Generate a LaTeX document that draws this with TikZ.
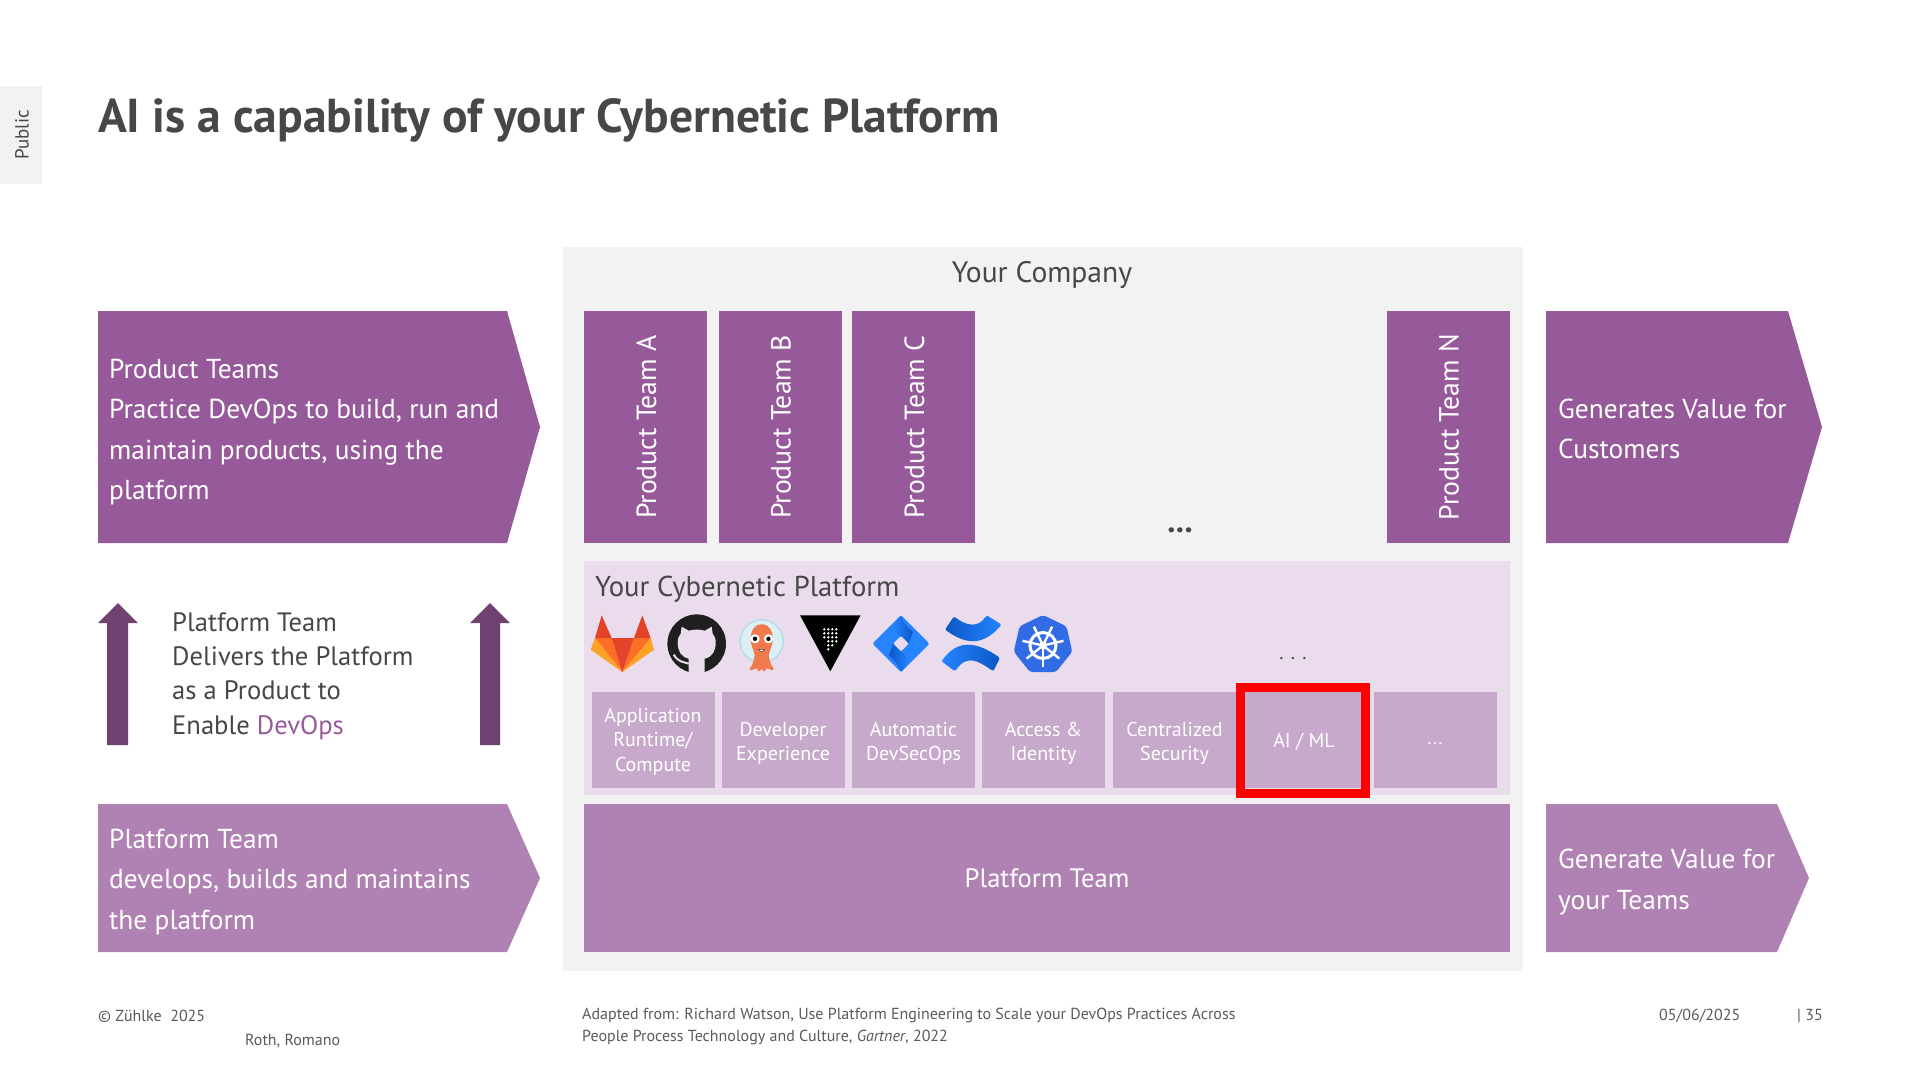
\documentclass[tikz,border=0pt]{standalone}
\usepackage{fontspec}
\usetikzlibrary{shapes.geometric}
\setmainfont{PT Sans}
\definecolor{purpA}{HTML}{965A9A}
\definecolor{purpB}{HTML}{B082B3}
\definecolor{chipC}{HTML}{C7A9CB}
\definecolor{platBg}{HTML}{EADCEC}
\definecolor{compBg}{HTML}{F2F2F2}
\definecolor{darkP}{HTML}{6F4272}
\definecolor{txt}{HTML}{474747}
\definecolor{foot}{HTML}{5A5A5A}
\definecolor{jblue}{HTML}{2684FF}
\definecolor{jdark}{HTML}{0B57C4}
\definecolor{kblue}{HTML}{326CE5}
\definecolor{glA}{HTML}{E24329}
\definecolor{glB}{HTML}{FC6D26}
\definecolor{glC}{HTML}{FCA326}
\definecolor{argoO}{HTML}{EF7B4D}
\definecolor{helmet}{HTML}{DCEFF5}
\definecolor{helmetE}{HTML}{B5DCEB}
\tikzset{
  teambox/.style={fill=purpA,minimum width=123pt,minimum height=232pt,inner sep=0pt},
  teamlabel/.style={text=white,rotate=90,font=\fontsize{27.7}{30}\selectfont},
  chip/.style={fill=chipC,minimum height=96pt,minimum width=123pt,inner sep=0pt},
  chiplabel/.style={text=white,inner sep=0pt,align=center,font=\fontsize{20}{24.5}\selectfont},
  paneltext/.style={anchor=west,align=left,text=white,inner sep=0pt,font=\fontsize{27.4}{40.5}\selectfont},
  midtext/.style={anchor=west,align=left,text=txt,inner sep=0pt,font=\fontsize{26.6}{34.3}\selectfont},
  foottext/.style={anchor=west,text=foot,inner sep=0pt,font=\fontsize{16}{22}\selectfont},
}
\begin{document}
\begin{tikzpicture}[x=1pt,y=-1pt]
\useasboundingbox (0,0) rectangle (1920,1080);
\fill[white] (0,0) rectangle (1920,1080);
% tab
\node[fill=compBg,minimum width=42pt,minimum height=98pt,inner sep=0pt] (tab) at (21,135) {};
\node[rotate=90,text=txt,font=\fontsize{19}{20}\selectfont] (tablabel) at (22,135) {Public};
% title
\node[anchor=base west,inner sep=0pt,text=txt,font=\bfseries\fontsize{47.6}{50}\selectfont] (title) at (98,132) {AI is a capability of your Cybernetic Platform};
% company
\node[fill=compBg,minimum width=960pt,minimum height=724pt,inner sep=0pt] (company) at (1043,609) {};
\node[text=txt,font=\fontsize{29.6}{30}\selectfont] (companylabel) at (1042,275) {Your Company};
% left chevrons
\fill[purpA] (98,311) -- (507,311) -- (540,427) -- (507,543) -- (98,543) -- cycle;
\node[paneltext] (ltext1) at (109,432) {Product Teams\\Practice DevOps to build, run and\\maintain products, using the\\platform};
\fill[purpB] (98,804) -- (507,804) -- (540,878) -- (507,952) -- (98,952) -- cycle;
\node[paneltext] (ltext3) at (109,882) {Platform Team\\develops, builds and maintains\\the platform};
% right chevrons
\fill[purpA] (1546,311) -- (1788,311) -- (1822,427) -- (1788,543) -- (1546,543) -- cycle;
\node[paneltext] (rtext1) at (1558,429) {Generates Value for\\Customers};
\fill[purpB] (1546,804) -- (1777,804) -- (1809,878) -- (1777,952) -- (1546,952) -- cycle;
\node[paneltext] (rtext3) at (1558,882) {Generate Value for\\your Teams};
% up arrows and mid text
\fill[darkP] (118,603) -- (138,623) -- (128,623) -- (128,745) -- (107,745) -- (107,623) -- (98,623) -- cycle;
\fill[darkP] (490,603) -- (510,623) -- (500,623) -- (500,745) -- (480,745) -- (480,623) -- (470,623) -- cycle;
\node[midtext] (midtext) at (172,676) {Platform Team\\Delivers the Platform\\as a Product to\\Enable \textcolor{purpA}{DevOps}};
% teams
\foreach \nm/\cx/\lb in {tA/645.5/A,tB/780/B,tC/913.5/C,tN/1448/N}{
  \node[teambox] (\nm) at (\cx,427) {};
  \node[teamlabel] (\nm l) at (\cx+1,427) {Product Team \lb};
}
\node[text=txt,font=\bfseries\fontsize{33}{33}\selectfont] (dotsA) at (1180,530) {...};
% platform
\node[fill=platBg,minimum width=926pt,minimum height=234pt,inner sep=0pt] (platform) at (1047,678) {};
\node[anchor=west,inner sep=0pt,text=txt,font=\fontsize{28.7}{30}\selectfont] (platformlabel) at (595,589) {Your Cybernetic Platform};
\node[text=txt,font=\fontsize{20}{20}\selectfont] (dotsB) at (1293,659) {. . .};
% gitlab
\fill[glA] (601.7,615.3) -- (611.7,638) -- (595,638) -- cycle;
\fill[glA] (642.3,615.3) -- (634,638) -- (650.7,638) -- cycle;
\fill[glB] (595,638) -- (611.7,638) -- (622.3,672) -- cycle;
\fill[glB] (650.7,638) -- (634,638) -- (622.3,672) -- cycle;
\fill[glC] (595,638) -- (590.7,649.7) -- (622.3,672) -- cycle;
\fill[glC] (650.7,638) -- (654,649.7) -- (622.3,672) -- cycle;
\fill[glA] (611.7,638) -- (634,638) -- (622.3,672) -- cycle;
% github
\begin{scope}[shift={(696.7,643.7)}]
 \fill[black!88] (0,0) circle (29.3);
 \fill[platBg] (-8,30) -- (-8,15) .. controls (-16,13) and (-19,7) .. (-19,-1) .. controls (-19,-5) and (-18,-8) .. (-16,-10) -- (-15,-17) -- (-8,-13) .. controls (-3,-14.5) and (3,-14.5) .. (8,-13) -- (15,-17) -- (16,-10) .. controls (18,-8) and (19,-5) .. (19,-1) .. controls (19,7) and (16,13) .. (8,15) -- (8,30) -- cycle;
 \draw[platBg,line width=2pt] (-23,11) .. controls (-18,19) and (-13,18) .. (-8,20);
\end{scope}
% argo
\begin{scope}[shift={(761.7,641.3)}]
 \fill[helmet] (0,0) circle (21);
 \draw[helmetE,line width=1.5pt] (0,0) circle (21.5);
 \fill[argoO] (0,-17) .. controls (-8,-17) and (-11,-10) .. (-11,-3) .. controls (-11,5) and (-8,8) .. (-7,14) .. controls (-8,20) and (-9,24) .. (-12,27) -- (-11,29) -- (-5,27) -- (-3,30) -- (0,28) -- (3,30) -- (5,27) -- (11,29) -- (12,27) .. controls (9,24) and (8,20) .. (7,14) .. controls (8,8) and (11,5) .. (11,-3) .. controls (11,-10) and (8,-17) .. (0,-17) -- cycle;
 \fill[white] (-6.7,-2.5) circle (4.6) (6.7,-2.5) circle (4.6);
 \fill[black] (-6.7,-2.5) circle (2.2) (6.7,-2.5) circle (2.2);
 \fill[white,draw=black!70,line width=.6pt] (-3,8) .. controls (-1,11) and (1,11) .. (3,8) -- cycle;
\end{scope}
% vault
\begin{scope}[shift={(830.3,615.3)}]
 \fill[black] (-30.3,0) -- (30.3,0) -- (0,56) -- cycle;
 \foreach \dx/\dy in {-6/14,-2/14,2/14,6/14,-6/18,-2/18,2/18,6/18,-6/22,-2/22,2/22,6/22,-2/26,2/26,6/26,-2/30,2/30,-2/34}{
  \fill[white] (\dx,\dy) circle (1.3);
 }
\end{scope}
% jira
\begin{scope}[shift={(901,643.7)}]
 \fill[jblue,rounded corners=2pt,even odd rule] (0,-28.5) -- (28.5,0) -- (0,28.5) -- (-28.5,0) -- cycle (0,-8) -- (8,0) -- (0,8) -- (-8,0) -- cycle;
 \shade[left color=jblue,right color=jdark] (-4,-24) .. controls (-8,-16) and (-6,-10) .. (0,-8) -- (8,0) -- (12,-12) .. controls (6,-16) and (2,-22) .. (0,-28) -- cycle;
 \shade[left color=jdark,right color=jblue] (4,24) .. controls (8,16) and (6,10) .. (0,8) -- (-8,0) -- (-12,12) .. controls (-6,16) and (-2,22) .. (0,28) -- cycle;
\end{scope}
% confluence
\begin{scope}[shift={(830,608)},x=0.3333pt,y=-0.3333pt]
 \shade[left color=jdark,right color=jblue,rounded corners=1.5pt] (345,65) .. controls (395,100) and (450,125) .. (515,50) -- (470,22) .. controls (445,60) and (410,55) .. (372,25) -- cycle;
 \shade[left color=jblue,right color=jdark,rounded corners=1.5pt] (335,160) .. controls (370,110) and (420,85) .. (510,150) -- (490,190) .. controls (440,155) and (410,140) .. (375,190) -- cycle;
\end{scope}
% kubernetes
\node[fill=kblue,regular polygon,regular polygon sides=7,minimum size=60pt,inner sep=0pt,rounded corners=3pt] (k8s) at (1043,645) {};
\begin{scope}[shift={(1043,645.5)}]
 \draw[white,line width=3pt] (0,0) circle (13);
 \foreach \ang in {90,141.43,192.86,244.29,295.71,347.14,38.57}{
   \draw[white,line width=2.4pt] (0,0) -- (\ang:21);
 }
 \fill[white] (0,0) circle (4);
\end{scope}
% chips
\node[chip] (c1) at (653,740) {};
\node[chip] (c2) at (783,740) {};
\node[chip] (c3) at (913.5,740) {};
\node[chip] (c4) at (1043.5,740) {};
\node[chip] (c5) at (1174.5,740) {};
\node[chip] (c6) at (1304,740) {};
\node[chip] (c7) at (1435,740) {};
\node[chiplabel] (c1l) at (653,741.5) {Application\\Runtime/\\Compute};
\node[chiplabel] (c2l) at (783,743.5) {Developer\\Experience};
\node[chiplabel] (c3l) at (913.5,743.5) {Automatic\\DevSecOps};
\node[chiplabel] (c4l) at (1043.5,743.5) {Access \&\\Identity};
\node[chiplabel] (c5l) at (1174.5,743.5) {Centralized\\Security};
\node[chiplabel] (c6l) at (1304,741.5) {AI / ML};
\node[chiplabel,text=white!85!chipC] (c7l) at (1435,744) {...};
\node[draw=red,line width=9pt,minimum width=125pt,minimum height=106pt,inner sep=0pt] (hilite) at (1302.5,740.5) {};
% platform team
\node[fill=purpB,text=white,minimum width=926pt,minimum height=148pt,inner sep=0pt,font=\fontsize{26.6}{30}\selectfont] (pteam) at (1047,878) {Platform Team};
% footer
\node[foottext] (f1) at (98,1016) {© Zühlke~~2025};
\node[foottext] (f2) at (245,1041) {Roth, Romano};
\node[foottext,align=left] (f3) at (582,1026.5) {Adapted from: Richard Watson, Use Platform Engineering to Scale your DevOps Practices Across\\People Process Technology and Culture, \textit{Gartner}, 2022};
\node[foottext] (f4) at (1659,1016) {05/06/2025};
\node[foottext] (f5) at (1797,1016) {| 35};
\end{tikzpicture}
\end{document}
